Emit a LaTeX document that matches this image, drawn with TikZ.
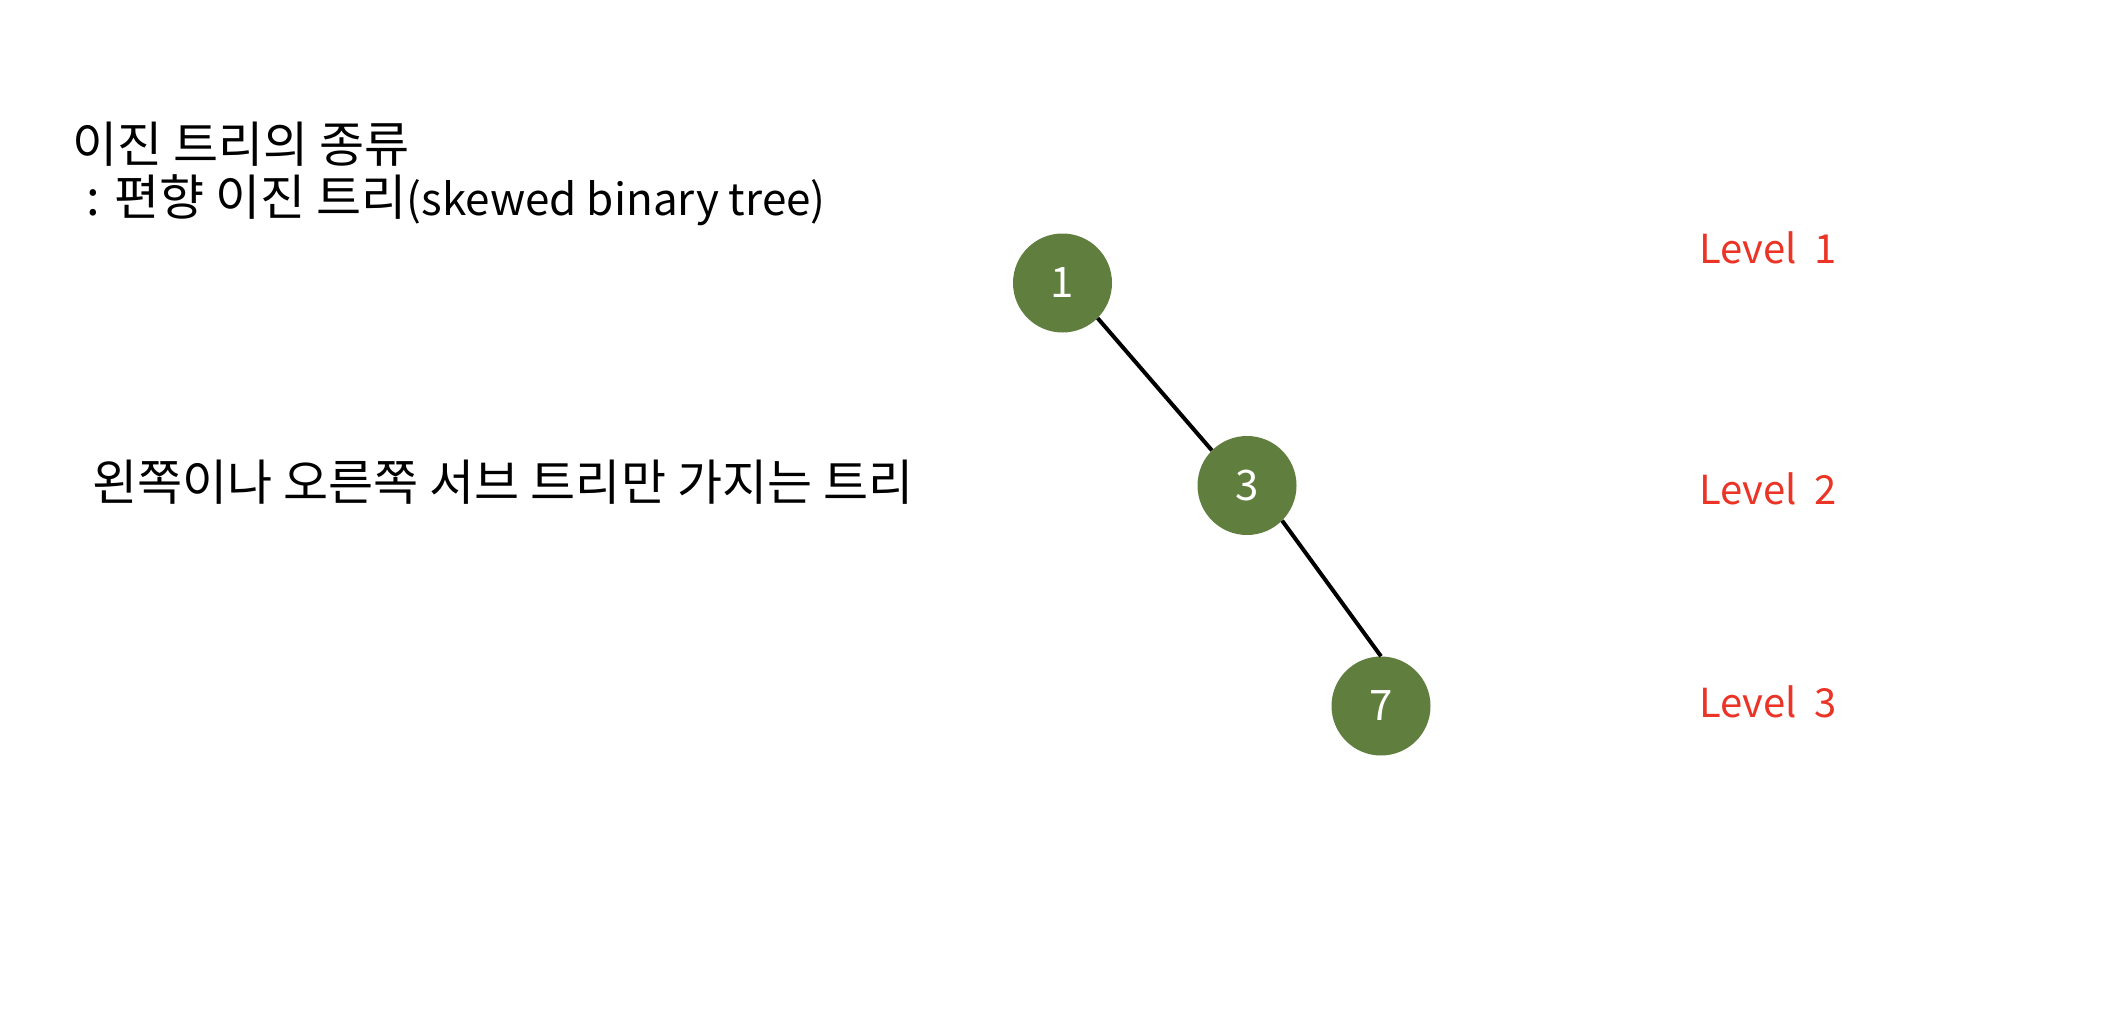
\documentclass[tikz,border=0pt]{standalone}
\usepackage{fontspec}
\setmainfont{Noto Sans CJK KR}
\definecolor{nodegreen}{RGB}{96,126,61}
\definecolor{levelred}{RGB}{235,52,38}
\tikzset{
  treenode/.style={circle, fill=nodegreen, minimum size=99pt, inner sep=0pt, text=white, font=\fontsize{42}{48}\selectfont},
  leveltext/.style={anchor=west, text=levelred, inner sep=0pt, font=\fontsize{40}{46}\selectfont},
  bodytext/.style={anchor=base west, inner sep=0pt, font=\fontsize{49}{56}\selectfont},
  edge/.style={line width=4pt, black}
}
\newcommand{\latinpart}[1]{{\fontsize{44}{50}\selectfont #1}}
\begin{document}
\begin{tikzpicture}[x=1pt,y=-1pt]
\useasboundingbox (0,0) rectangle (2126,1030);
\node[bodytext] (title1) at (72,162) {이진 트리의 종류};
\node[bodytext] (title2) at (86,215) {: 편향 이진 트리\latinpart{(skewed binary tree)}};
\node[bodytext] (desc) at (92,500) {왼쪽이나 오른쪽 서브 트리만 가지는 트리};
\node[treenode] (n1) at (1062.5,283) {1};
\node[treenode] (n3) at (1247,485.5) {3};
\node[treenode] (n7) at (1381,706) {7};
\draw[edge] (n1.south east) -- (n3.north west);
\draw[edge] (n3.south east) -- (n7.north);
\node[leveltext] (l1) at (1699,248) {Level\hspace{0.45em}1};
\node[leveltext] (l2) at (1699,489) {Level\hspace{0.45em}2};
\node[leveltext] (l3) at (1699,702) {Level\hspace{0.45em}3};
\end{tikzpicture}
\end{document}
